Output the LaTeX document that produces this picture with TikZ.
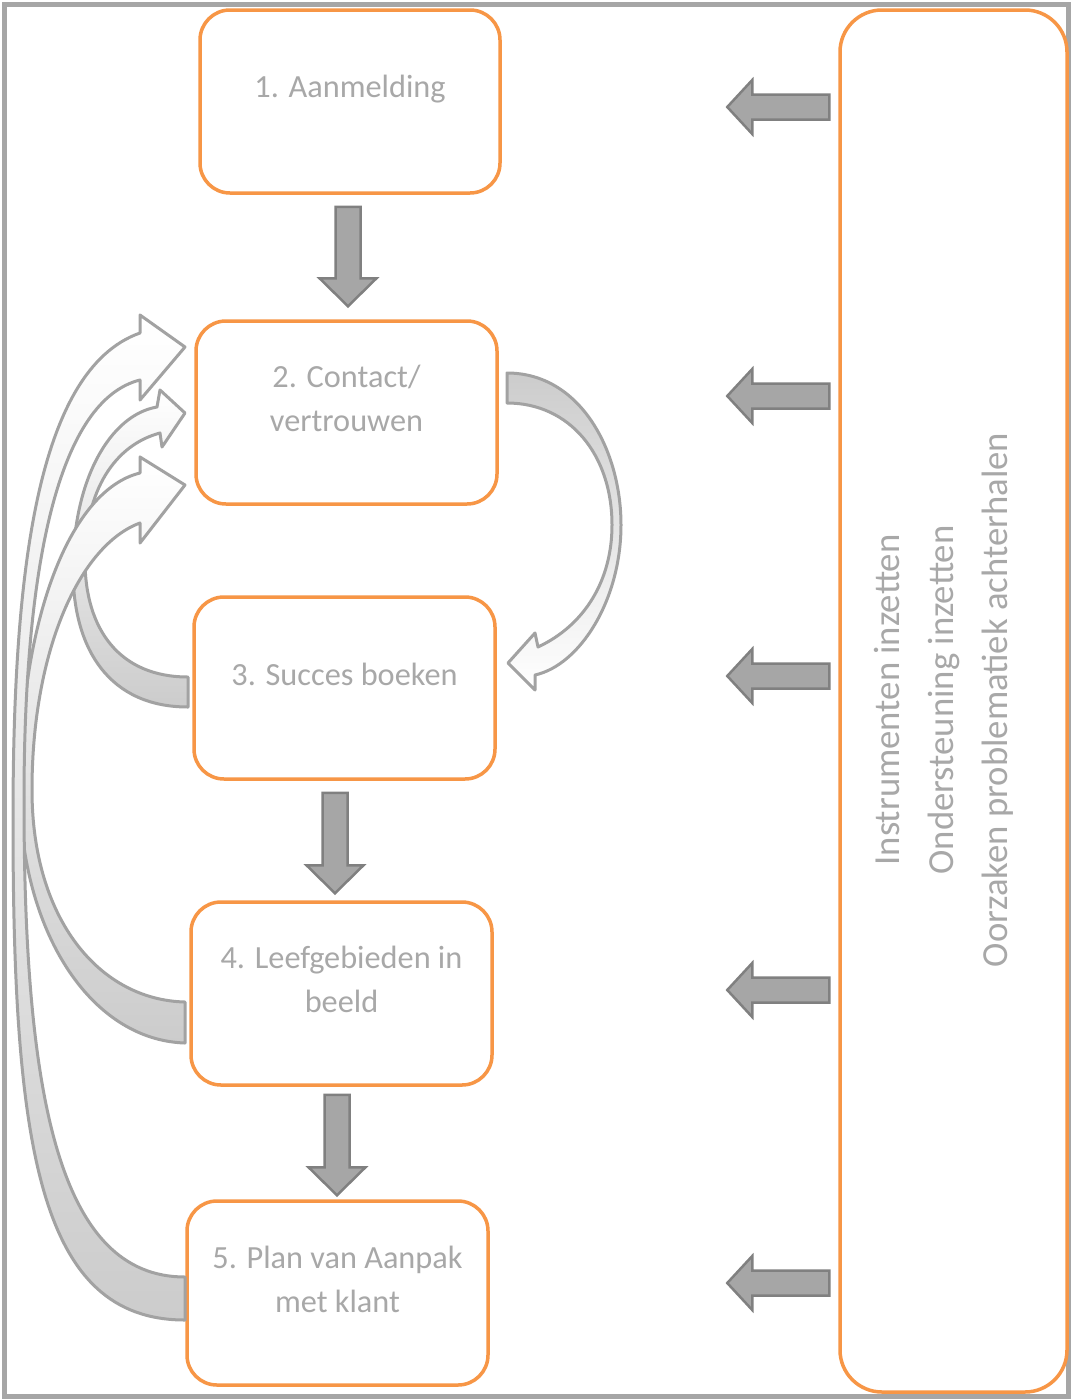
\documentclass[tikz,border=0pt]{standalone}
\usepackage{fontspec}
\setmainfont{Carlito}
\usetikzlibrary{calc}
\definecolor{orng}{HTML}{F79646}
\definecolor{txtgray}{HTML}{A8A8A8}
\definecolor{arrfill}{HTML}{A6A6A6}
\definecolor{arrline}{HTML}{808080}
\definecolor{bandfill}{HTML}{CCCCCC}
\definecolor{bandline}{HTML}{A2A2A2}
\definecolor{framegray}{HTML}{A6A6A6}
\tikzset{
  stepbox/.style={draw=orng, line width=3.5pt, rounded corners=30pt, fill=white, inner sep=0pt},
  boxtext/.style={text=txtgray, font=\fontsize{32.3pt}{44pt}\selectfont, align=center, inner sep=0pt},
  sidetext/.style={text=txtgray, font=\fontsize{36.7pt}{54pt}\selectfont, align=center, inner sep=0pt},
  blockarrow/.style={fill=arrfill, draw=arrline, line width=2.5pt, line join=miter},
  leftcurve/.style={draw=bandline, line width=3pt, top color=white, middle color=white, bottom color=bandfill, line join=round},
  rightcurve/.style={draw=bandline, line width=3pt, top color=bandfill, bottom color=white, line join=round},
}
\newcommand{\mydownarrow}[5]{% x(px), from node, to node, gap top, gap bottom
  \draw[blockarrow] let \p1=($(#2.south)+(0,#4)$), \p2=($(#3.north)+(0,-#5)$) in
  (#1pt-12.5pt,\y1) -- (#1pt+12.5pt,\y1) -- (#1pt+12.5pt,\y2+28pt) -- (#1pt+28.5pt,\y2+28pt)
  -- (#1pt,\y2) -- (#1pt-28.5pt,\y2+28pt) -- (#1pt-12.5pt,\y2+28pt) -- cycle;}
\newcommand{\myleftarrow}[2]{% node, y(px)
  \draw[blockarrow] let \p1=(#1.west), \p2=(0,#2) in
  (\x1-9pt,\y2+12.5pt) -- (\x1-86pt,\y2+12.5pt) -- (\x1-86pt,\y2+27pt) -- (\x1-111pt,\y2)
  -- (\x1-86pt,\y2-27pt) -- (\x1-86pt,\y2-12.5pt) -- (\x1-9pt,\y2-12.5pt) -- cycle;}
\begin{document}
\begin{tikzpicture}[x=1pt,y=-1pt]
\useasboundingbox (0,0) rectangle (1072,1400);
\fill[white] (0,0) rectangle (1072,1400);
\draw[framegray, line width=5pt] (4,4) rectangle (1068,1396);

% boxes
\node[stepbox, minimum width=300pt, minimum height=183pt,
  label={[boxtext, yshift=12pt, name=t1]center:1. Aanmelding}] (b1) at (350,101.5) {};
\node[stepbox, minimum width=301pt, minimum height=183pt,
  label={[boxtext, yshift=14pt, name=t2]center:{2. Contact/\\vertrouwen}}] (b2) at (346.5,412.5) {};
\node[stepbox, minimum width=301pt, minimum height=182pt,
  label={[boxtext, yshift=14pt, name=t3]center:3. Succes boeken}] (b3) at (344.5,688) {};
\node[stepbox, minimum width=301pt, minimum height=183pt,
  label={[boxtext, yshift=14pt, name=t4]center:{4. Leefgebieden in\\beeld}}] (b4) at (341.5,993.5) {};
\node[stepbox, minimum width=301pt, minimum height=184pt,
  label={[boxtext, yshift=14pt, name=t5]center:{5. Plan van Aanpak\\met klant}}] (b5) at (337.5,1293) {};

% right column
\node[stepbox, rounded corners=42pt, minimum width=227pt, minimum height=1382pt] (rb) at (953.5,701) {};
\node[sidetext, rotate=90] (rt) at (944,700) {Instrumenten inzetten\\Ondersteuning inzetten\\Oorzaken problematiek achterhalen};

% down arrows
\mydownarrow{348}{b1}{b2}{12}{13}
\mydownarrow{335}{b3}{b4}{12}{7}
\mydownarrow{337}{b4}{b5}{8}{4}

% left arrows from the right column
\myleftarrow{rb}{107}
\myleftarrow{rb}{396}
\myleftarrow{rb}{676}
\myleftarrow{rb}{990}
\myleftarrow{rb}{1283}

% curved arrow 2 -> 3
\draw[rightcurve] (507,373) .. controls (580,373) and (621,450) .. (621,525)
  .. controls (621,600) and (580,665) .. (535,675)
  -- (535,690) -- (508,663) -- (535,633) -- (538,647)
  .. controls (585,625) and (612,580) .. (612,525)
  .. controls (612,455) and (570,403) .. (507,403) -- cycle;

% curved arrow 3 -> 2
\draw[leftcurve] (188,707) .. controls (110,707) and (73,650) .. (73,570)
  .. controls (73,480) and (110,415) .. (157,407)
  -- (160,390) -- (185,413) -- (162,447) -- (160,433)
  .. controls (115,445) and (85,490) .. (85,560)
  .. controls (85,630) and (120,677) .. (188,677) -- cycle;

% curved arrow 4 -> 2
\draw[leftcurve] (185,1043) .. controls (90,1040) and (20,930) .. (20,790)
  .. controls (20,620) and (70,490) .. (140,473)
  -- (140,457) -- (185,485) -- (140,543) -- (140,523)
  .. controls (80,545) and (32,650) .. (32,790)
  .. controls (32,920) and (100,1000) .. (185,1002) -- cycle;

% curved arrow 5 -> 2
\draw[leftcurve] (185,1320) .. controls (40,1320) and (13,1150) .. (13,820)
  .. controls (13,580) and (35,370) .. (140,333)
  -- (140,315) -- (185,347) -- (140,400) -- (140,380)
  .. controls (60,400) and (24,560) .. (24,800)
  .. controls (24,1100) and (60,1277) .. (185,1277) -- cycle;
\end{tikzpicture}
\end{document}
